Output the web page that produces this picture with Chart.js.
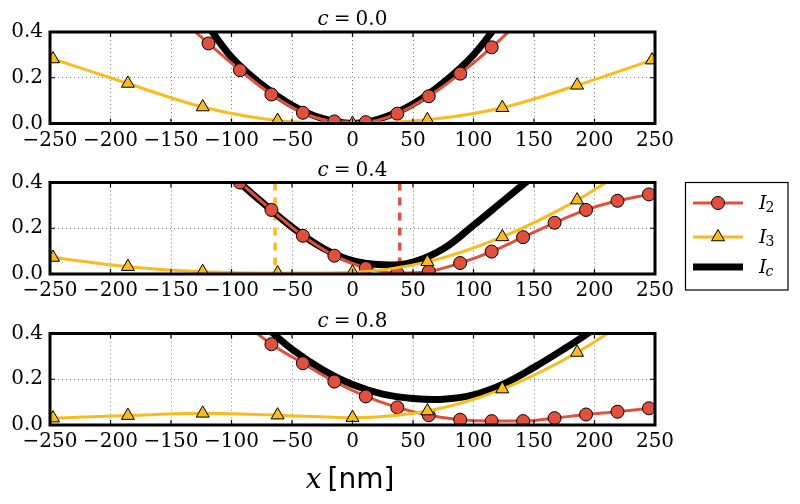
<!DOCTYPE html>
<html>
<head>
<meta charset="utf-8">
<script src="https://cdn.jsdelivr.net/npm/chart.js@4.4.0/dist/chart.umd.min.js"></script>
<style>
html, body { margin: 0; padding: 0; background: #fff; }
#wrap { position: relative; width: 800px; height: 504px; }
canvas { position: absolute; left: 0; }
</style>
</head>
<body>
<div id="wrap">
<canvas id="panel-0" width="800" height="152" style="top:0px"></canvas>
<canvas id="panel-1" width="800" height="152" style="top:152px"></canvas>
<canvas id="panel-2" width="800" height="200" style="top:304px"></canvas>
</div>
<script>
// tick values and panel labels
const xTickValues = [-250, -200, -150, -100, -50, 0, 50, 100, 150, 200, 250];
const yTickValues = [0, 0.2, 0.4];
const cLabels = ["0.0", "0.4", "0.8"];

// I2 samples (red circles); null = not drawn in that panel
const i2X = [-145, -119, -93, -67, -41, -15, 11, 37, 63, 89, 115, 141, 167, 193, 219, 245];
const i2C00 = [0.47, 0.350, 0.233, 0.127, 0.047, 0.009, 0.006, 0.043, 0.119, 0.218, 0.333, 0.46, null, null, null, null];
const i2C04 = [null, 0.51, 0.400, 0.280, 0.167, 0.080, 0.026, 0.004, 0.011, 0.048, 0.098, 0.161, 0.224, 0.280, 0.320, 0.348];
const i2C08 = [null, null, 0.46, 0.353, 0.270, 0.190, 0.125, 0.077, 0.043, 0.023, 0.017, 0.017, 0.030, 0.046, 0.058, 0.073];

// I3 samples (yellow triangles)
const i3X = [-247.5, -185.6, -123.8, -61.9, 0, 61.9, 123.8, 185.6, 247.5];
const i3C00 = [0.282, 0.175, 0.072, 0.013, 0.000, 0.016, 0.069, 0.167, 0.277];
const i3C04 = [0.072, 0.032, 0.010, 0.004, 0.008, 0.053, 0.162, 0.323, 0.53];
const i3C08 = [0.030, 0.041, 0.051, 0.043, 0.032, 0.061, 0.157, 0.317, 0.53];

// Ic curve (thick black)
const icX = [-125, -100, -75, -50, -25, 0, 25, 50, 75, 100, 125, 150, 175, 200];
const icC00 = [0.47, 0.29, 0.17, 0.08, 0.022, 0.0, 0.025, 0.085, 0.178, 0.30, 0.47, null, null, null];
const icC04 = [null, 0.43, 0.315, 0.205, 0.115, 0.058, 0.040, 0.052, 0.11, 0.213, 0.322, 0.43, null, null];
const icC08 = [null, null, 0.445, 0.331, 0.243, 0.177, 0.135, 0.116, 0.113, 0.132, 0.18, 0.252, 0.333, 0.42];

// dashed markers in the c = 0.4 panel
const vlineX = [-64, 39];

const RED = "#E0503C";
const YELLOW = "#F9BB1E";
const BLACK = "#000000";
const SERIF = "'DejaVu Serif', serif";

Chart.defaults.font.family = SERIF;
Chart.defaults.font.size = 20;
Chart.defaults.color = "#000";

function toPoints(xs, ys) {
	return xs.map((x, i) => ({ x: x, y: ys[i] }));
}

function fmtX(v) {
	return v < 0 ? "\u2212" + Math.abs(v) : String(v);
}

function drawTitle(ctx, cText, cx, baseline) {
	const italic = "italic 20px " + SERIF;
	const upright = "20px " + SERIF;
	ctx.font = italic;
	const wc = ctx.measureText("c").width;
	ctx.font = upright;
	const we = ctx.measureText("=").width;
	const wn = ctx.measureText(cText).width;
	const gap = 5;
	let x = cx - (wc + gap + we + gap + wn) / 2;
	ctx.textAlign = "left";
	ctx.textBaseline = "alphabetic";
	ctx.fillStyle = "#000";
	ctx.font = italic;
	ctx.fillText("c", x, baseline);
	x += wc + gap;
	ctx.font = upright;
	ctx.fillText("=", x, baseline);
	x += we + gap;
	ctx.fillText(cText, x, baseline);
}

function drawLegend(ctx, offsetY) {
	ctx.strokeStyle = "#000";
	ctx.lineWidth = 1.2;
	ctx.strokeRect(685.5, 182.5 - offsetY, 102.5, 107.5);

	const rows = [
		{ y: 203, color: RED, width: 3, marker: "circle", sub: "2" },
		{ y: 237, color: YELLOW, width: 3, marker: "triangle", sub: "3" },
		{ y: 267, color: BLACK, width: 7, marker: null, sub: "c" },
	];
	for (const r of rows) {
		const y = r.y - offsetY;
		ctx.strokeStyle = r.color;
		ctx.lineWidth = r.width;
		ctx.beginPath();
		ctx.moveTo(693, y);
		ctx.lineTo(743, y);
		ctx.stroke();
		if (r.marker) {
			ctx.fillStyle = r.color;
			ctx.strokeStyle = "#000";
			ctx.lineWidth = 1;
			Chart.helpers.drawPoint(ctx, { pointStyle: r.marker, radius: r.marker === "circle" ? 6.5 : 7.5, borderWidth: 1, rotation: 0 }, 718, y);
		}
		ctx.fillStyle = "#000";
		ctx.textAlign = "left";
		ctx.textBaseline = "alphabetic";
		ctx.font = "italic 19px " + SERIF;
		ctx.fillText("I", 759, y + 6);
		const wi = ctx.measureText("I").width;
		ctx.font = (r.sub === "c" ? "italic " : "") + "14px " + SERIF;
		ctx.fillText(r.sub, 759 + wi - 1, y + 9);
	}
}

function drawXLabel(ctx, baseline) {
	const italic = "italic 28px " + SERIF;
	const sans = "28px 'DejaVu Sans', sans-serif";
	ctx.font = italic;
	const wx = ctx.measureText("x").width;
	ctx.font = sans;
	const wb = ctx.measureText("[nm]").width;
	const gap = 6;
	let x = 350 - (wx + gap + wb) / 2;
	ctx.fillStyle = "#000";
	ctx.textAlign = "left";
	ctx.textBaseline = "alphabetic";
	ctx.font = italic;
	ctx.fillText("x", x, baseline);
	ctx.font = sans;
	ctx.fillText("[nm]", x + wx + gap, baseline);
}

const framePlugin = {
	id: "frame",
	afterDraw(chart, args, opts) {
		const ctx = chart.ctx;
		const a = chart.chartArea;
		const xs = chart.scales.x;
		const ys = chart.scales.y;
		ctx.save();
		ctx.strokeStyle = "#000";
		ctx.lineWidth = 1.2;
		ctx.beginPath();
		for (const v of xTickValues) {
			const px = xs.getPixelForValue(v);
			ctx.moveTo(px, a.bottom);
			ctx.lineTo(px, a.bottom - 5);
			ctx.moveTo(px, a.top);
			ctx.lineTo(px, a.top + 5);
		}
		for (const v of yTickValues) {
			const py = ys.getPixelForValue(v);
			ctx.moveTo(a.left, py);
			ctx.lineTo(a.left + 5, py);
			ctx.moveTo(a.right, py);
			ctx.lineTo(a.right - 5, py);
		}
		ctx.stroke();
		ctx.lineWidth = 3;
		ctx.strokeRect(a.left, a.top, a.right - a.left, a.bottom - a.top);
		drawTitle(ctx, opts.c, (a.left + a.right) / 2, a.top - 7);
		if (opts.legend) drawLegend(ctx, opts.offsetY);
		if (opts.xLabel) drawXLabel(ctx, 488 - opts.offsetY);
		ctx.restore();
	},
};

const panels = [
	{ id: "panel-0", c: cLabels[0], i2: i2C00, i3: i3C00, ic: icC00, offsetY: 0, top: 32, axisH: 28.5 },
	{ id: "panel-1", c: cLabels[1], i2: i2C04, i3: i3C04, ic: icC04, offsetY: 152, top: 30.5, axisH: 30, vlines: true, legend: true },
	{ id: "panel-2", c: cLabels[2], i2: i2C08, i3: i3C08, ic: icC08, offsetY: 304, top: 29.5, axisH: 79, xLabel: true },
];

const gridStyle = { color: "rgba(0,0,0,0.5)", lineWidth: 1, drawTicks: false };
const borderStyle = { display: false, dash: [1, 3] };

for (const p of panels) {
	const datasets = [
		{
			label: "Ic",
			data: toPoints(icX, p.ic),
			showLine: true,
			borderColor: BLACK,
			borderWidth: 7,
			borderJoinStyle: "round",
			pointRadius: 0,
			tension: 0.4,
			order: 3,
			clip: 0,
		},
		{
			label: "I2",
			data: toPoints(i2X, p.i2),
			showLine: true,
			borderColor: RED,
			borderWidth: 3,
			pointStyle: "circle",
			pointRadius: 6.5,
			pointBackgroundColor: RED,
			pointBorderColor: BLACK,
			pointBorderWidth: 1,
			cubicInterpolationMode: "monotone",
			order: 2,
			clip: 0,
		},
		{
			label: "I3",
			data: toPoints(i3X, p.i3),
			showLine: true,
			borderColor: YELLOW,
			borderWidth: 3,
			pointStyle: "triangle",
			pointRadius: 7.5,
			pointBackgroundColor: YELLOW,
			pointBorderColor: BLACK,
			pointBorderWidth: 1,
			cubicInterpolationMode: "monotone",
			order: 1,
			clip: 0,
		},
	];

	if (p.vlines) {
		const colors = [YELLOW, RED];
		vlineX.forEach((vx, i) => {
			datasets.push({
				label: "v" + i,
				data: [{ x: vx, y: 0.4 }, { x: vx, y: 0 }],
				showLine: true,
				borderColor: colors[i],
				borderWidth: 3.5,
				borderDash: [8, 7],
				pointRadius: 0,
				tension: 0,
				order: 4,
				clip: 0,
			});
		});
	}

	new Chart(document.getElementById(p.id), {
		type: "scatter",
		data: { datasets },
		options: {
			responsive: false,
			animation: false,
			events: [],
			layout: { padding: { top: p.top, right: 145, left: 0, bottom: 0 } },
			plugins: {
				legend: { display: false },
				tooltip: { enabled: false },
				frame: { c: p.c, legend: !!p.legend, xLabel: !!p.xLabel, offsetY: p.offsetY },
			},
			scales: {
				x: {
					type: "linear",
					min: -250,
					max: 250,
					afterBuildTicks: s => { s.ticks = xTickValues.map(v => ({ value: v })); },
					afterFit: s => { s.height = p.axisH; },
					ticks: { callback: fmtX, autoSkip: false, maxRotation: 0, padding: 5 },
					grid: gridStyle,
					border: borderStyle,
				},
				y: {
					type: "linear",
					min: 0,
					max: 0.4,
					afterBuildTicks: s => { s.ticks = yTickValues.map(v => ({ value: v })); },
					afterFit: s => { s.width = 50; },
					ticks: { callback: v => v.toFixed(1), padding: 7 },
					grid: gridStyle,
					border: borderStyle,
				},
			},
		},
		plugins: [framePlugin],
	});
}
</script>
</body>
</html>
